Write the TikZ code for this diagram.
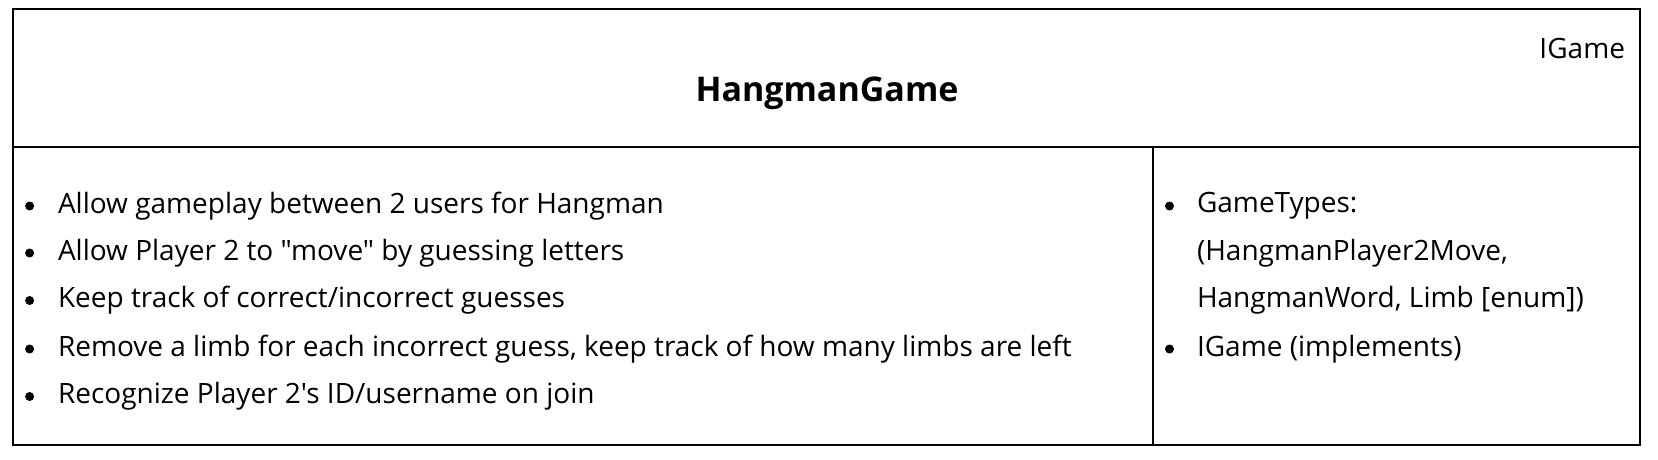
\documentclass[tikz,border=0pt]{standalone}
\usepackage{fontspec}
\setmainfont{Open Sans}[Ligatures=TeXOff]
\usetikzlibrary{positioning}
\tikzset{
  itemdot/.style={circle, fill=black, inner sep=0pt, minimum size=9pt},
  itemtext/.style={anchor=west, inner sep=0pt, font=\fontsize{28}{32}\selectfont},
  titletext/.style={font=\bfseries\fontsize{34}{39}\selectfont},
}

\begin{document}
\begin{tikzpicture}[x=1pt, y=-1pt, line width=2pt]
  \useasboundingbox (0,0) rectangle (1658,460);
  % frame and compartments
  \coordinate (boxNW) at (13,9.5);
  \coordinate (boxSE) at (1640,445);
  \draw (boxNW) rectangle (boxSE);
  \draw (13,147) -- (1640,147);
  \draw (1152.6,147) -- (1152.6,445);

  \node[titletext] (title) at (827,93) {HangmanGame};
  \node[itemtext, anchor=east] (stereo) at (1626,48.6) {IGame};

  % responsibilities
  \foreach \i/\y/\txt in {
    1/206/{Allow gameplay between 2 users for Hangman},
    2/253/{Allow Player 2 to "move" by guessing letters},
    3/300.5/{Keep track of correct/incorrect guesses},
    4/349/{Remove a limb for each incorrect guess, keep track of how many limbs are left},
    5/396.5/{Recognize Player 2's ID/username on join}
  }{
    \node[itemdot] (dotL\i) at (29.6,\y) {};
    \node[itemtext] (itemL\i) at (57,\y) {\txt};
  }
  % collaborators
  \foreach \i/\y/\txt in {
    1/206/{GameTypes:},
    2/253/{(HangmanPlayer2Move,},
    3/300.5/{HangmanWord, Limb [enum])},
    4/349/{IGame (implements)}
  }{
    \node[itemtext] (itemR\i) at (1196,\y) {\txt};
  }
  \node[itemdot] (dotR1) at (1169.5,206) {};
  \node[itemdot] (dotR4) at (1169.5,349) {};
\end{tikzpicture}
\end{document}
